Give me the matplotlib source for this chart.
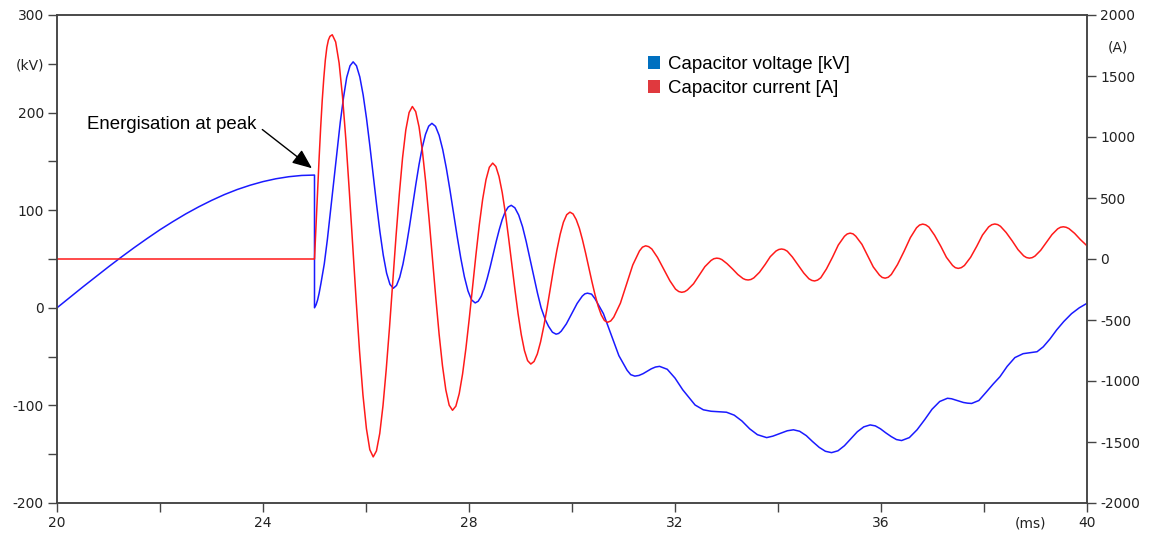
import numpy as np
import matplotlib
matplotlib.use("Agg")
import matplotlib.pyplot as plt
from matplotlib.patches import Patch

# capacitor voltage (kV) vs time (ms)
t_v = [20.0, 20.25, 20.5, 20.75, 21.0, 21.25, 21.5, 21.75, 22.0, 22.25, 22.5,
       22.75, 23.0, 23.25, 23.5, 23.75, 24.0, 24.25, 24.5, 24.75, 25.0,
       25.0, 25.03, 25.06, 25.09, 25.125, 25.19, 25.25, 25.31, 25.375, 25.44,
       25.5, 25.565, 25.625, 25.69, 25.75,
       25.815, 25.88, 25.945, 26.01, 26.075, 26.14, 26.205, 26.27, 26.335,
       26.4, 26.465, 26.53,
       26.5925, 26.655, 26.7175, 26.78, 26.8425, 26.905, 26.9675, 27.03,
       27.0925, 27.155, 27.2175, 27.28,
       27.35, 27.42, 27.49, 27.56, 27.63, 27.7, 27.77, 27.84, 27.91, 27.98,
       28.05, 28.12,
       28.178, 28.237, 28.295, 28.353, 28.412, 28.47, 28.528, 28.587, 28.645,
       28.703, 28.762, 28.82,
       28.89, 28.965, 29.04, 29.11, 29.18, 29.255, 29.33, 29.4, 29.48, 29.545,
       29.62, 29.69,
       29.74, 29.79, 29.89, 29.995, 30.1, 30.2, 30.25, 30.3,
       30.38, 30.45, 30.61, 30.76, 30.91, 31.07, 31.14, 31.22,
       31.3, 31.38, 31.46, 31.54, 31.62, 31.7,
       31.85, 32.0, 32.15, 32.29, 32.39, 32.55, 32.7, 32.85, 33.0,
       33.15, 33.3, 33.45, 33.6, 33.78,
       33.9, 34.05, 34.18, 34.3,
       34.42, 34.55, 34.67, 34.8, 34.92, 35.04,
       35.165, 35.29, 35.415, 35.54, 35.665, 35.79,
       35.89, 35.99, 36.09, 36.2, 36.3, 36.4,
       36.55, 36.7, 36.85, 36.99, 37.14, 37.29,
       37.37, 37.45, 37.53, 37.6, 37.68, 37.76,
       37.9, 38.05, 38.18, 38.31, 38.45, 38.6, 38.76, 38.9, 39.03,
       39.15, 39.28, 39.41, 39.55, 39.7, 39.85, 40.0]
v_kv = [0, 10.7, 21.3, 31.7, 42, 52, 61.7, 71, 80, 88.3, 96.2,
        103.4, 110, 116, 121.2, 125.6, 129.3, 132.2, 134.3, 135.6, 136,
        0, 3, 8, 15, 25, 45, 70, 99, 130, 162,
        190, 216, 236, 248, 252,
        248, 236.5, 218, 194, 166, 136, 106, 78, 54,
        35.5, 24, 20,
        22.9, 31.3, 44.7, 62.3, 82.6, 104.5, 126.4, 146.8,
        164.3, 177.7, 186.1, 189,
        185.9, 176.7, 162.1, 143, 120.8, 97, 73.2, 51, 31.9, 17.3,
        8.1, 5,
        6.7, 11.7, 19.6, 30, 42.1, 55, 67.9, 80, 90.4,
        98.3, 103.3, 105,
        102.5, 95, 83, 68, 51, 33, 15, 0, -12, -19,
        -25, -27,
        -26.3, -24, -16.5, -6, 4.5, 12, 14.3, 15,
        14, 9, -6, -27.5, -49, -64, -68.5, -70,
        -69.3, -67.5, -65, -62.5, -60.7, -60,
        -63, -72, -84, -93, -99.6, -104.5, -106, -106.5, -107,
        -110, -116, -124, -130, -133,
        -131.5, -128.5, -126, -125,
        -126.5, -131, -137, -143, -147, -148.4,
        -146.5, -141.3, -134.2, -127, -122, -120,
        -121, -124, -128, -132, -135, -136,
        -133, -125, -114.5, -104, -96, -92.7,
        -93.2, -94.5, -95.8, -97, -97.7, -98,
        -95, -86, -78, -70.6, -60, -51, -47, -46, -45,
        -40, -32, -22.7, -14, -6, 0, 4.6]

# capacitor current (A) vs time (ms)
t_i = [20.0, 25.0, 25.03, 25.06, 25.09, 25.12, 25.15, 25.18, 25.21, 25.24,
       25.27, 25.3, 25.345,
       25.411, 25.478, 25.544, 25.61, 25.676, 25.743, 25.809, 25.875, 25.941,
       26.008, 26.074, 26.14,
       26.203, 26.267, 26.33, 26.393, 26.457, 26.52, 26.583, 26.647, 26.71,
       26.773, 26.837, 26.9,
       26.965, 27.03, 27.095, 27.16, 27.225, 27.29, 27.355, 27.42, 27.485,
       27.55, 27.615, 27.68,
       27.745, 27.81, 27.875, 27.94, 28.005, 28.07, 28.135, 28.2, 28.265,
       28.33, 28.395, 28.46,
       28.522, 28.583, 28.645, 28.707, 28.768, 28.83, 28.892, 28.953, 29.015,
       29.077, 29.138, 29.2,
       29.263, 29.327, 29.39, 29.453, 29.517, 29.58, 29.643, 29.707, 29.77,
       29.833, 29.897, 29.96,
       30.021, 30.082, 30.143, 30.203, 30.264, 30.325, 30.386, 30.447, 30.508,
       30.568, 30.629, 30.69,
       30.752, 30.81, 30.94, 31.06, 31.18, 31.31, 31.368, 31.43,
       31.488, 31.55, 31.66, 31.78, 31.9, 32.01, 32.072, 32.13,
       32.187, 32.24, 32.36, 32.47, 32.58, 32.7, 32.753, 32.81,
       32.861, 32.91, 33.01, 33.12, 33.22, 33.32, 33.369, 33.42,
       33.474, 33.53, 33.64, 33.75, 33.85, 33.96, 34.016, 34.07,
       34.123, 34.18, 34.28, 34.39, 34.5, 34.6, 34.657, 34.71,
       34.768, 34.83, 34.94, 35.06, 35.17, 35.29, 35.343, 35.4,
       35.457, 35.51, 35.63, 35.74, 35.85, 35.97, 36.023, 36.08,
       36.141, 36.2, 36.32, 36.45, 36.57, 36.69, 36.749, 36.81,
       36.868, 36.93, 37.04, 37.16, 37.27, 37.39, 37.443, 37.5,
       37.559, 37.62, 37.74, 37.86, 37.97, 38.09, 38.151, 38.21,
       38.266, 38.32, 38.43, 38.55, 38.66, 38.77, 38.824, 38.88,
       38.935, 38.99, 39.1, 39.21, 39.32, 39.43, 39.485, 39.54,
       39.595, 39.65, 39.76, 39.87, 40.0]
i_a = [0, 0, 280, 560, 830, 1080, 1300, 1480, 1630, 1735,
       1795, 1825, 1838,
       1779, 1606, 1331, 973, 556, 108, -340, -757, -1115,
       -1390, -1563, -1622,
       -1573, -1430, -1202, -904, -558, -186, 186, 532, 830,
       1058, 1201, 1250,
       1208, 1083, 885, 627, 327, 5, -317, -618, -875,
       -1073, -1198, -1240,
       -1206, -1104, -943, -733, -489, -227, 35, 280, 489,
       650, 752, 786,
       758, 676, 545, 374, 176, -38, -251, -449, -620,
       -751, -833, -861,
       -840, -778, -679, -550, -400, -238, -77, 73, 202,
       301, 363, 384,
       369, 323, 252, 158, 49, -68, -184, -293, -387,
       -458, -504, -519,
       -508, -477, -362, -205, -49, 66, 97, 108,
       101.5, 82, 13, -82, -178, -247, -266.5, -273,
       -268, -254, -203, -133, -63, -12, 2, 7,
       4, -5, -38, -83, -127, -160, -169, -172,
       -168, -155, -109, -45, 19, 65, 78, 82,
       77.5, 64, 16, -49, -115, -162, -175.5, -180,
       -173, -154, -82, 16, 114, 186, 205, 212,
       206, 187, 120, 27, -65, -132, -151, -157,
       -149.5, -127, -46, 65, 175, 256, 278.5, 286,
       280, 262, 195, 105, 14, -53, -71, -77,
       -71, -53, 14, 105, 196, 263, 281, 287,
       282, 268, 217, 147, 77, 26, 12, 7,
       11, 24, 71, 136, 200, 247, 260, 264,
       260, 249, 210, 160, 108]

x_ticks = list(range(20, 41, 2))
x_labels = ["20", "", "24", "", "28", "", "32", "", "36", "", "40"]
kv_ticks = list(range(-200, 301, 50))
kv_labels = ["-200", "", "-100", "", "0", "", "100", "", "200", "(kV)", "300"]
a_ticks = list(range(-2000, 2001, 500))

W, H = 1159, 540
fig = plt.figure(figsize=(W / 100, H / 100), dpi=100)
ax = fig.add_axes([57 / W, 1 - 503 / H, 1030 / W, 488 / H])
ax2 = ax.twinx()

ax.plot(t_v, v_kv, color="#1a1aff", lw=1.1, solid_joinstyle="round")
ax2.plot(t_i, i_a, color="#ff1a1a", lw=1.1, solid_joinstyle="round")

ax.set_xlim(20, 40)
ax.set_ylim(-200, 300)
ax2.set_ylim(-2000, 2000)

ax.set_xticks(x_ticks)
ax.set_xticklabels(x_labels)
ax.set_yticks(kv_ticks)
ax.set_yticklabels(kv_labels)
ax2.set_yticks(a_ticks)
ax2.set_yticklabels([str(a) for a in a_ticks])

spine_col = "#444444"
txt_col = "#222222"
for a in (ax, ax2):
    for s in a.spines.values():
        s.set_color(spine_col)
        s.set_linewidth(1.1)
    a.tick_params(length=6.5, width=1.0, color=spine_col, labelsize=10,
                  labelcolor=txt_col, pad=3)
    for lab in a.get_xticklabels() + a.get_yticklabels():
        lab.set_family("DejaVu Sans")

ax.annotate("(ms)", xy=(38.9, 0), xycoords=("data", "axes fraction"),
            xytext=(0, -9.5), textcoords="offset points", ha="center", va="top",
            fontsize=10, color=txt_col, family="DejaVu Sans")
ax2.annotate("(A)", xy=(1, 1730), xycoords=("axes fraction", "data"),
             xytext=(15, 0), textcoords="offset points", ha="left", va="center",
             fontsize=10, color=txt_col, family="DejaVu Sans")

# annotation placed in the current axis units (A), i.e. 143 kV / 188 kV
ax2.annotate("Energisation at peak", xy=(24.95, 744), xytext=(20.58, 1100),
             ha="left", va="center", fontsize=13.4, family="Liberation Sans",
             arrowprops=dict(arrowstyle="-|>,head_length=0.6,head_width=0.25",
                             color="black", lw=1.0, mutation_scale=20,
                             relpos=(1, 0.5), shrinkA=3, shrinkB=0))

handles = [Patch(facecolor="#0070c0", edgecolor="none", label="Capacitor voltage [kV]"),
           Patch(facecolor="#e0393e", edgecolor="none", label="Capacitor current [A]")]
ax2.legend(handles=handles, loc="upper left", bbox_to_anchor=(648 / W, 1 - 56 / H),
           bbox_transform=fig.transFigure, frameon=False, borderpad=0,
           borderaxespad=0, handlelength=0.65, handleheight=0.65,
           handletextpad=0.4, labelspacing=0.38,
           prop={"family": "Liberation Sans", "size": 13.4})

fig.savefig("out.png", dpi=100)
